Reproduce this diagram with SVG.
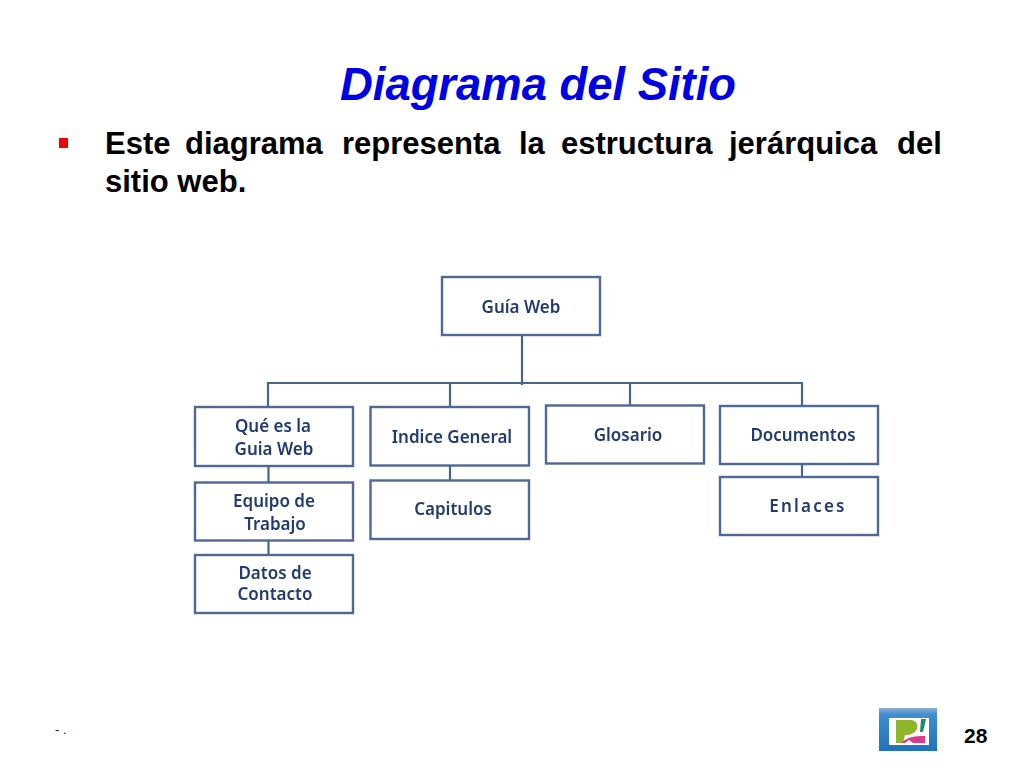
<svg xmlns="http://www.w3.org/2000/svg" width="1024" height="768" viewBox="0 0 1024 768">
<defs>
<filter id="soft" x="-5%" y="-5%" width="110%" height="110%"><feGaussianBlur stdDeviation="0.45"/></filter>
<linearGradient id="frame" x1="0" y1="0" x2="0" y2="1"><stop offset="0" stop-color="#8fb0d4"/><stop offset="0.15" stop-color="#3f8ed0"/><stop offset="1" stop-color="#2272b8"/></linearGradient>
</defs>
<style>
.box{fill:#fff;stroke:#4f6797;stroke-width:2.4}
.lbl{font-family:"Noto Sans","Open Sans",sans-serif;font-weight:600;font-size:17px;fill:#203a73;text-anchor:middle}
.con{fill:none;stroke:#4a6394;stroke-width:2.2}
.body{font-family:"Liberation Sans",Arial,sans-serif;font-weight:700;font-size:31px;fill:#000}
</style>
<rect width="1024" height="768" fill="#fff"/>
<text x="340" y="100" font-family="'Liberation Sans',Arial,sans-serif" font-weight="700" font-style="italic" font-size="45.4" fill="#0000e6">Diagrama del Sitio</text>
<rect x="59" y="138" width="9" height="10" fill="#f00000"/>
<text class="body" y="154"><tspan x="105">Este</tspan><tspan x="185">diagrama</tspan><tspan x="342">representa</tspan><tspan x="519">la</tspan><tspan x="561">estructura</tspan><tspan x="729">jerárquica</tspan><tspan x="897">del</tspan></text>
<text class="body" x="105" y="192">sitio web.</text>
<g id="connectors" class="con" filter="url(#soft)">
<path d="M522 335V385"/>
<path d="M268 407V383H802V406"/>
<path d="M450 383V407"/>
<path d="M630 383V406"/>
<path d="M268.500 466V482M268.500 541V555"/>
<path d="M450 466V480"/>
<path d="M802 464V477"/>
</g>
<g id="n-guia" filter="url(#soft)"><rect class="box" x="442" y="277" width="158" height="58"/><text class="lbl" x="521" y="313">Guía Web</text></g>
<g id="n-que" filter="url(#soft)"><rect class="box" x="195" y="407" width="158" height="59"/><text class="lbl" x="273" y="432">Qué es la</text><text class="lbl" x="274" y="455">Guia Web</text></g>
<g id="n-indice" filter="url(#soft)"><rect class="box" x="370.500" y="407" width="158.500" height="58.500"/><text class="lbl" x="452" y="443">Indice General</text></g>
<g id="n-glosario" filter="url(#soft)"><rect class="box" x="546" y="405.500" width="158" height="58"/><text class="lbl" x="628" y="441">Glosario</text></g>
<g id="n-documentos" filter="url(#soft)"><rect class="box" x="720" y="406" width="158" height="58"/><text class="lbl" x="803" y="441">Documentos</text></g>
<g id="n-equipo" filter="url(#soft)"><rect class="box" x="195" y="482.500" width="158" height="58"/><text class="lbl" x="274" y="507">Equipo de</text><text class="lbl" x="275" y="530">Trabajo</text></g>
<g id="n-capitulos" filter="url(#soft)"><rect class="box" x="370.500" y="480.500" width="158.500" height="58.500"/><text class="lbl" x="453" y="515">Capitulos</text></g>
<g id="n-enlaces" filter="url(#soft)"><rect class="box" x="720" y="477" width="158" height="58"/><text class="lbl" x="808" y="512" letter-spacing="2.200">Enlaces</text></g>
<g id="n-datos" filter="url(#soft)"><rect class="box" x="195" y="555" width="158" height="58"/><text class="lbl" x="275" y="579">Datos de</text><text class="lbl" x="275" y="600">Contacto</text></g>
<text x="55" y="734" font-family="'Liberation Sans',Arial,sans-serif" font-size="13" fill="#222">- .</text>
<g filter="url(#soft)">
<rect x="879" y="708" width="58" height="43" fill="url(#frame)"/>
<rect x="889" y="718" width="40" height="27" fill="#fff"/>
<path d="M896 720H912Q919 722 917 729Q914 735 905 735L903 743H896Z" fill="#8fb52c"/>
<path d="M921 719H926L923 732H920Z" fill="#1f8a70"/>
<path d="M901 743Q908 735 925 736V743H913L909 740L905 743Z" fill="#d83c8c"/>
</g>
<text x="964" y="743" font-family="'Liberation Sans',Arial,sans-serif" font-weight="700" font-size="21" fill="#000">28</text>
</svg>
